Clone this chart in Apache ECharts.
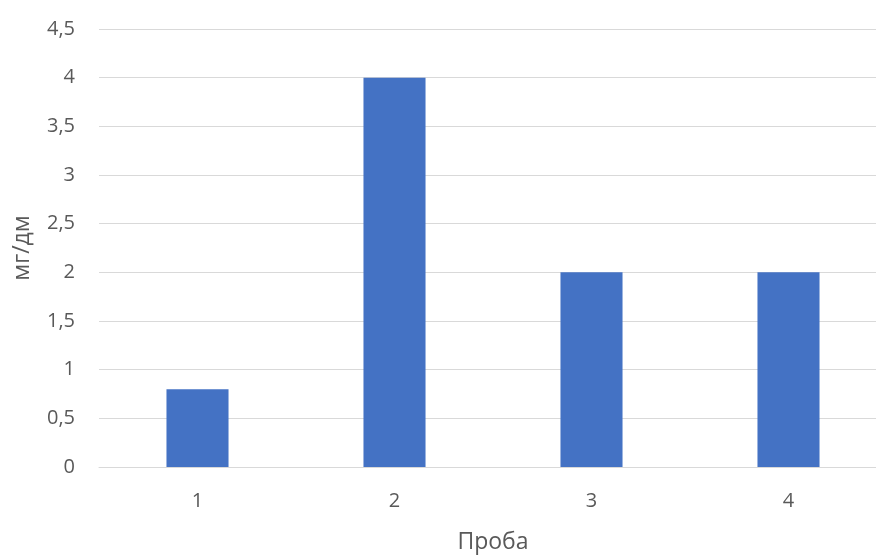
<!DOCTYPE html>
<html><head><meta charset="utf-8">
<script src="https://cdn.jsdelivr.net/npm/echarts@6/dist/echarts.min.js"></script>
<style>html,body{margin:0;padding:0;background:#fff;overflow:hidden;width:876px;height:559px}#c{width:887px;height:559px}</style>
</head><body><div id="c"></div>
<script>
const categories = ['1', '2', '3', '4'];
const values = [0.8, 4, 2, 2];
const yTicks = [0, 0.5, 1, 1.5, 2, 2.5, 3, 3.5, 4, 4.5];
const font = '"Open Sans", "Noto Sans", sans-serif';
const chart = echarts.init(document.getElementById('c'), null, {renderer: 'canvas'});
chart.setOption({
  animation: false,
  grid: {left: 99, top: 29, right: 0, bottom: 90, containLabel: false},
  xAxis: {
    type: 'category', data: categories,
    name: 'Проба', nameLocation: 'middle', nameGap: 64,
    nameTextStyle: {color: '#595959', fontSize: 23, fontFamily: font},
    axisLine: {show: true, lineStyle: {color: '#d9d9d9', width: 1}},
    axisTick: {show: false},
    axisLabel: {color: '#595959', fontSize: 20, fontFamily: font, margin: 24}
  },
  yAxis: {
    type: 'value', min: 0, max: 4.5, interval: 0.5,
    name: 'мг/дм', nameLocation: 'middle', nameGap: 65, nameRotate: 90,
    nameTextStyle: {color: '#595959', fontSize: 23, fontFamily: font},
    axisLine: {show: false}, axisTick: {show: false},
    splitLine: {lineStyle: {color: '#d9d9d9', width: 1}},
    axisLabel: {color: '#595959', fontSize: 20, fontFamily: font, margin: 24,
      formatter: v => yTicks.includes(v) ? String(v).replace('.', ',') : ''}
  },
  series: [{
    type: 'bar', data: values, barWidth: '31.5%',
    itemStyle: {color: '#4472c4'}
  }]
});
</script></body></html>
